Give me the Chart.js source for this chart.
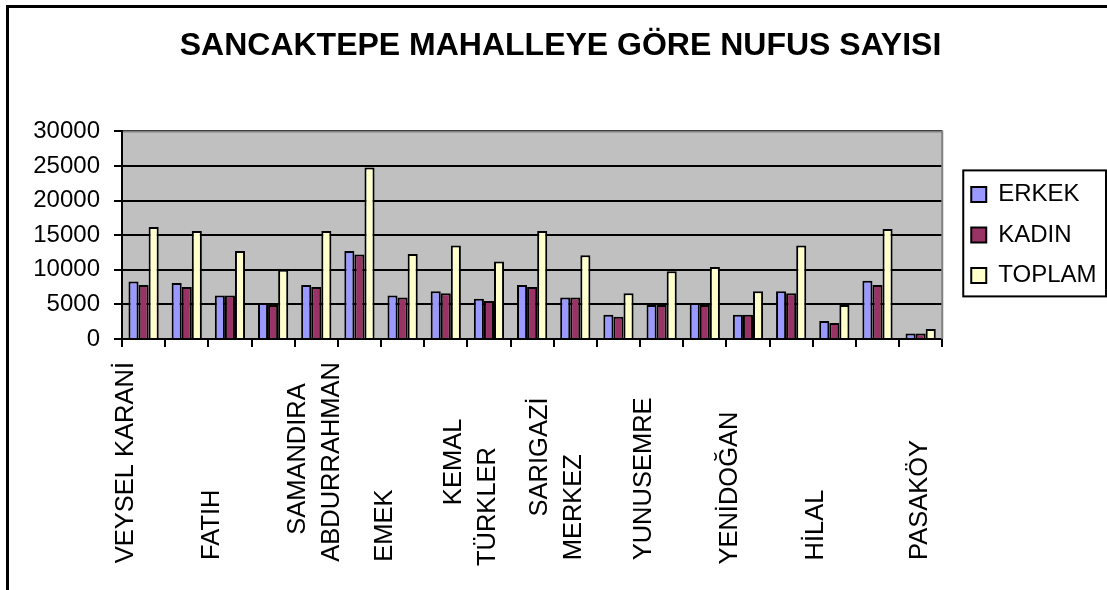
<!DOCTYPE html>
<html lang="tr">
<head>
<meta charset="utf-8">
<title>Sancaktepe mahalleye göre nüfus sayısı</title>
<script src="https://cdn.jsdelivr.net/npm/chart.js@4.4.1/dist/chart.umd.min.js"></script>
<style>
  html, body { margin: 0; padding: 0; background: #fff; overflow: hidden; }
  .frame { position: absolute; left: 6px; top: 5px; width: 1200px; height: 700px; border: 3px solid #000; }
  #chart { position: absolute; left: 0; top: 0; }
</style>
</head>
<body>
<div class="frame"></div>
<canvas id="chart" width="1107" height="590"></canvas>
<script>
// only every second neighbourhood name is printed on the axis
const categories = [
  'VEYSEL KARANİ', '', 'FATIH', '', 'SAMANDIRA\nABDURRAHMAN', '', 'EMEK', '',
  'KEMAL\nTÜRKLER', '', 'SARIGAZİ\nMERKEZ', '', 'YUNUSEMRE', '', 'YENİDOĞAN', '',
  'HİLAL', '', 'PASAKÖY'
]
const seriesNames = ['ERKEK', 'KADIN', 'TOPLAM']
const erkek = [8300, 8100, 6300, 5200, 7800, 12700, 6300, 6900, 5800, 7800, 6000, 3500, 4900, 5200, 3500, 6900, 2600, 8400, 800]
const kadin = [7800, 7500, 6300, 4900, 7500, 12200, 6000, 6600, 5500, 7500, 6000, 3200, 4900, 4900, 3500, 6600, 2300, 7800, 800]
const toplam = [16200, 15600, 12700, 10000, 15600, 24800, 12300, 13500, 11200, 15600, 12100, 6600, 9800, 10400, 6900, 13500, 4900, 15900, 1450]
const yTicks = [0, 5000, 10000, 15000, 20000, 25000, 30000]

const FONT = "Arial, 'Liberation Sans', sans-serif"
const X_FONT_SIZE = 25.5

// which half-line slot each text line of a label sits in, and how far a line
// is lifted off the common bottom edge (Excel centres wrapped lines)
const labelSlots = { 0: [1], 2: [1], 4: [1, 3], 6: [1], 8: [0, 2], 10: [0, 2], 12: [1], 14: [1], 16: [1], 18: [2] }
const labelLift = { 4: [30, 0], 8: [60, 0], 10: [48, 0] }

// labels are bottom aligned in the original, so pad every line with spaces
const measure = document.createElement('canvas').getContext('2d')
measure.font = `${X_FONT_SIZE}px ${FONT}`
const widest = Math.max(...categories.flatMap(c => c.split('\n')).map(t => measure.measureText(t).width))

function padLine(text, lift) {
  let s = text
  while (measure.measureText(s + ' ').width <= widest - lift + 3) s += ' '
  return s
}

function xLabel(index) {
  const slots = labelSlots[index]
  if (!slots) return ''
  const parts = categories[index].split('\n')
  const lifts = labelLift[index] || []
  const out = []
  for (let i = 0; i <= slots[slots.length - 1]; i++) out.push('')
  slots.forEach((slot, j) => { out[slot] = padLine(parts[j], lifts[j] || 0) })
  return out
}

const plotBackground = {
  id: 'plotBackground',
  beforeDraw(chart) {
    const { ctx, chartArea: a } = chart
    ctx.save()
    ctx.fillStyle = '#C0C0C0'
    ctx.fillRect(a.left, a.top, a.right - a.left, a.bottom - a.top)
    ctx.restore()
  },
  afterDatasetsDraw(chart) {
    const { ctx, chartArea: a } = chart
    ctx.save()
    ctx.strokeStyle = '#808080'
    ctx.lineWidth = 2
    ctx.beginPath()
    ctx.moveTo(a.left + 1, a.top)
    ctx.lineTo(a.right, a.top)
    ctx.lineTo(a.right, a.bottom)
    ctx.stroke()
    ctx.restore()
  },
}

const legendBox = {
  id: 'legendBox',
  afterLayout(chart) {
    const lg = chart.legend
    const a = chart.chartArea
    lg.left = a.right + 12.5
    lg.right = lg.left + lg.width
    lg.top = a.top + 34.5
    lg.bottom = lg.top + lg.height
  },
  afterDraw(chart) {
    const lg = chart.legend
    const pad = lg.options.labels.padding
    const n = lg.legendItems.length
    const x0 = lg.left + pad - 8
    const y0 = lg.top + pad - 12
    const y1 = lg.top + pad + n * 24 + (n - 1) * pad + 9
    const ctx = chart.ctx
    ctx.save()
    ctx.strokeStyle = '#000'
    ctx.lineWidth = 2
    ctx.strokeRect(x0, y0, chart.width - 1 - x0, y1 - y0)
    ctx.restore()
  },
}

new Chart(document.getElementById('chart'), {
  type: 'bar',
  data: {
    labels: categories,
    datasets: [
      { label: seriesNames[0], data: erkek, backgroundColor: '#9999FF' },
      { label: seriesNames[1], data: kadin, backgroundColor: '#993366' },
      { label: seriesNames[2], data: toplam, backgroundColor: '#FFFFCC' },
    ],
  },
  options: {
    responsive: false,
    animation: false,
    devicePixelRatio: 1,
    layout: { padding: { left: 27, right: 13, top: 0, bottom: 0 } },
    datasets: {
      bar: { categoryPercentage: 0.7, barPercentage: 1, borderColor: '#000', borderWidth: 2 },
    },
    plugins: {
      title: {
        display: true,
        text: 'SANCAKTEPE MAHALLEYE GÖRE NUFUS SAYISI',
        color: '#000',
        font: { family: FONT, size: 32, weight: 'bold', lineHeight: 1.2 },
        padding: { top: 27, bottom: 66 },
      },
      legend: {
        position: 'right',
        align: 'start',
        labels: {
          color: '#000',
          font: { family: FONT, size: 24 },
          boxWidth: 15,
          boxHeight: 15,
          padding: 16.5,
        },
      },
      tooltip: { enabled: false },
    },
    scales: {
      x: {
        grid: { display: true, drawOnChartArea: false, drawTicks: true, tickLength: 8, color: '#000', lineWidth: 2, offset: true },
        border: { display: true, color: '#000', width: 2 },
        ticks: {
          autoSkip: false,
          minRotation: 90,
          maxRotation: 90,
          padding: 15,
          labelOffset: -35,
          color: '#000',
          font: { family: FONT, size: X_FONT_SIZE, lineHeight: '17px' },
          callback: (value, index) => xLabel(index),
        },
        afterFit: scale => { scale.height = 251 },
      },
      y: {
        min: yTicks[0],
        max: yTicks[yTicks.length - 1],
        afterBuildTicks: scale => { scale.ticks = yTicks.map(v => ({ value: v })) },
        ticks: { padding: 14, color: '#000', font: { family: FONT, size: 24 }, callback: v => String(v) },
        grid: { color: '#000', lineWidth: 2, tickLength: 8 },
        border: { color: '#000', width: 2 },
        afterFit: scale => { scale.width = 95 },
      },
    },
  },
  plugins: [plotBackground, legendBox],
})
</script>
</body>
</html>
